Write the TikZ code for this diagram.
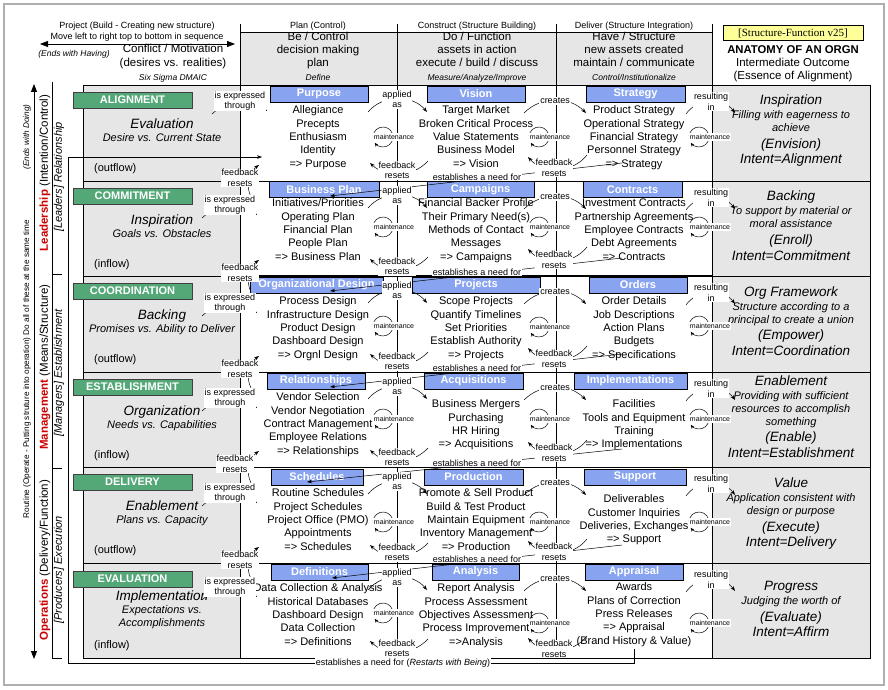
\documentclass[tikz,border=0pt]{standalone}
\usepackage{fontspec}
\setmainfont{Liberation Sans}
\newfontfamily\tagserif{Liberation Serif}
\usetikzlibrary{arrows.meta}
\definecolor{boxblue}{RGB}{136,164,240}
\definecolor{boxgreen}{RGB}{84,168,120}
\definecolor{cellgray}{RGB}{230,230,230}
\definecolor{leadred}{RGB}{204,0,0}
\definecolor{tagyellow}{RGB}{255,255,153}
\definecolor{framegray}{RGB}{175,175,175}
\newcommand\fsz[2]{\fontsize{#1}{#2}\selectfont}
\newcommand\colcell[4]{\foreach \cc [count=\kk] in {#4}{\node[txt] (#1-\kk) at (#2,{#3+(\kk-1)*13.3}) {\cc};}}
\tikzset{
  gridline/.style={line width=0.8pt, draw=black},
  txt/.style={inner sep=0pt, text height=8pt, text depth=2.4pt, font=\fsz{11}{13}},
  hdr/.style={inner sep=0pt, text height=8.5pt, text depth=2.5pt, font=\fsz{11.5}{13}},
  smalltxt/.style={inner sep=0pt, text height=6.5pt, text depth=2pt, font=\fsz{9}{10.5}},
  smallit/.style={inner sep=0pt, text height=6.5pt, text depth=2pt, font=\itshape\fsz{8.5}{10}},
  bigit/.style={inner sep=0pt, text height=9.5pt, text depth=3pt, font=\itshape\fsz{13.5}{15}},
  smit/.style={inner sep=0pt, text height=8pt, text depth=2.4pt, font=\itshape\fsz{11}{13}},
  lbl/.style={fill=white, inner sep=0.8pt, align=center, font=\fsz{9}{10.5}},
  mlbl/.style={fill=white, inner sep=1.2pt, font=\fsz{7}{8}},
  bluebox/.style={draw=black, line width=0.7pt, fill=boxblue, text=white, font=\bfseries\fsz{11}{12}, minimum height=16pt, inner sep=0pt},
  greenbox/.style={draw=black!75, line width=0.7pt, fill=boxgreen, text=white, font=\bfseries\fsz{11}{12}, minimum width=119pt, minimum height=16pt, inner sep=0pt},
  conn/.style={line width=0.5pt, -{Stealth[length=5pt,width=3.6pt]}},
  marc/.style={line width=0.5pt, -{Stealth[length=4pt,width=3.2pt]}},
  bigarrow/.style={line width=0.9pt, {Triangle[length=8pt,width=6pt]}-{Triangle[length=8pt,width=6pt]}}
}
\begin{document}
\begin{tikzpicture}[x=1pt,y=-1pt]
\useasboundingbox (0,0) rectangle (888,690);
\fill[white] (0,0) rectangle (888,690);
\draw[framegray, line width=1.2pt] (4,4) rectangle (884,685);

% ---------- fills ----------
\fill[cellgray] (83,85) rectangle (240,658);
\fill[cellgray] (240,32) rectangle (712,85);
\fill[cellgray] (712,85) rectangle (870,658);

% ---------- grid ----------
\draw[gridline] (83,85) rectangle (870,658);
\draw[gridline] (240,32) -- (712,32);
\foreach \xx in {240,397,556,712} \draw[gridline] (\xx,24) -- (\xx,658);
\foreach \yy in {181,276,372,467,563} \draw[gridline] (83,\yy) -- (870,\yy);
\draw[line width=1.8pt] (240,276) -- (712,276);

% ---------- left side ----------
\coordinate (vtop) at (34,84);
\coordinate (vbot) at (34,659);
\draw[bigarrow] (vtop) -- (vbot);
\node[rotate=90, inner sep=0pt, font=\itshape\fsz{8.2}{10}] (endsdoing) at (27,137) {(Ends with Doing)};
\node[rotate=90, inner sep=0pt, font=\fsz{8.2}{10}] (routine) at (27,369) {Routine (Operate - Putting struture into operation) Do all of these at the same time};
\node[rotate=90, inner sep=0pt, font=\fsz{11.5}{13}] (lead) at (45,173) {\textcolor{leadred}{\bfseries Leadership} (Intention/Control)};
\node[rotate=90, inner sep=0pt, font=\fsz{11.5}{13}] (mgmt) at (45,367) {\textcolor{leadred}{\bfseries Management} (Means/Structure)};
\node[rotate=90, inner sep=0pt, font=\fsz{11.5}{13}] (ops) at (45,560) {\textcolor{leadred}{\bfseries Operations} (Delivery/Function)};
\node[rotate=90, inner sep=0pt, font=\itshape\fsz{11}{13}] (leaders) at (59,177) {[Leaders] Relationship};
\node[rotate=90, inner sep=0pt, font=\itshape\fsz{11}{13}] (managers) at (59,373) {[Managers] Establishment};
\node[rotate=90, inner sep=0pt, font=\itshape\fsz{11}{13}] (producers) at (59,570) {[Producers] Execution};
\draw[line width=0.8pt] (52,82) -- (52,658) -- (62,658);
\draw[line width=0.8pt] (52,274) -- (62,274);
\draw[line width=0.8pt] (52,468) -- (62,468);

% ---------- header ----------
\node[smalltxt] (hproj) at (137,26) {Project (Build - Creating new structure)};
\node[smalltxt] (hmove) at (137,37) {Move left to right top to bottom in sequence};
\coordinate (hal) at (40,44);
\coordinate (har) at (235,44);
\draw[bigarrow, line width=0.8pt] (hal) -- (har);
\node[smallit] (hends) at (74,54) {(Ends with Having)};
\node[hdr] (hconf) at (173,50) {Conflict / Motivation};
\node[hdr] (hdes) at (173,64) {(desires vs. realities)};
\node[smallit] (hsix) at (173,78) {Six Sigma DMAIC};

\node[smalltxt] (pl0) at (318,26) {Plan (Control)};
\node[hdr] (pl1) at (318,38) {Be / Control};
\node[hdr] (pl2) at (318,51) {decision making};
\node[hdr] (pl3) at (318,64) {plan};
\node[smallit] (pl4) at (318,78) {Define};

\node[smalltxt] (co0) at (477,26) {Construct (Structure Building)};
\node[hdr] (co1) at (477,38) {Do / Function};
\node[hdr] (co2) at (477,51) {assets in action};
\node[hdr] (co3) at (477,64) {execute / build / discuss};
\node[smallit] (co4) at (477,78) {Measure/Analyze/Improve};

\node[smalltxt] (de0) at (634,26) {Deliver (Structure Integration)};
\node[hdr] (de1) at (634,38) {Have / Structure};
\node[hdr] (de2) at (634,51) {new assets created};
\node[hdr] (de3) at (634,64) {maintain / communicate};
\node[smallit] (de4) at (634,78) {Control/Institutionalize};

\node[draw=black, line width=0.6pt, fill=tagyellow, minimum width=140pt, minimum height=15pt, inner sep=0pt, font=\tagserif\fsz{11}{12}] (ver) at (793,33) {[Structure-Function v25]};
\node[hdr, font=\bfseries\fsz{11.3}{13}] (anat) at (793,51) {ANATOMY OF AN ORGN};
\node[hdr] (inter) at (793,64) {Intermediate Outcome};
\node[hdr] (ess) at (793,77) {(Essence of Alignment)};

% ---------- left column ----------
\foreach \r/\yo/\gn/\ttlx/\subx/\flowx in {1/85/ALIGNMENT/Evaluation/Desire vs. Current State/(outflow),2/181/COMMITMENT/Inspiration/Goals vs. Obstacles/(inflow),3/276/COORDINATION/Backing/Promises vs. Ability to Deliver/(outflow),4/372/ESTABLISHMENT/Organization/Needs vs. Capabilities/(inflow),5/467/DELIVERY/Enablement/Plans vs. Capacity/(outflow)}{
  \node[greenbox] (g\r) at (132.5,{\yo+15}) {\gn};
  \node[bigit] (lt\r) at (162,{\yo+40}) {\ttlx};
  \node[smit] (ls\r) at (162,{\yo+54}) {\subx};
  \node[txt, anchor=west] (lf\r) at (94,{\yo+84}) {\flowx};
}
\node[greenbox] (g6) at (132.5,579) {EVALUATION};
\node[bigit] (lt6) at (162,597) {Implementation};
\node[smit] (ls6a) at (162,611) {Expectations vs.};
\node[smit] (ls6b) at (162,624) {Accomplishments};
\node[txt, anchor=west] (lf6) at (94,646) {(inflow)};

% ---------- blue boxes ----------
\node[bluebox, minimum width=98pt] (bP1) at (319,94) {Purpose};
\node[bluebox, minimum width=98pt] (bV1) at (476,94) {Vision};
\node[bluebox, minimum width=99pt] (bS1) at (635.5,94) {Strategy};
\node[bluebox, minimum width=110pt] (bP2) at (324,189.5) {Business Plan};
\node[bluebox, minimum width=107pt] (bV2) at (480.5,189.5) {Campaigns};
\node[bluebox, minimum width=99pt] (bS2) at (632.5,189.5) {Contracts};
\node[bluebox, minimum width=133pt] (bP3) at (316.5,285) {Organizational Design};
\node[bluebox, minimum width=128pt] (bV3) at (476,285) {Projects};
\node[bluebox, minimum width=98pt] (bS3) at (638,285) {Orders};
\node[bluebox, minimum width=98pt] (bP4) at (316,381) {Relationships};
\node[bluebox, minimum width=99pt] (bV4) at (473.5,381) {Acquisitions};
\node[bluebox, minimum width=113pt] (bS4) at (630.5,381) {Implementations};
\node[bluebox, minimum width=92pt] (bP5) at (317,477) {Schedules};
\node[bluebox, minimum width=99pt] (bV5) at (473.5,477) {Production};
\node[bluebox, minimum width=102pt] (bS5) at (635,477) {Support};
\node[bluebox, minimum width=97pt] (bP6) at (319.5,572) {Definitions};
\node[bluebox, minimum width=87pt] (bV6) at (475.5,572) {Analysis};
\node[bluebox, minimum width=98pt] (bS6) at (634,572) {Appraisal};

% ---------- body texts ----------
\colcell{p1}{318}{111}{Allegiance,Precepts,Enthusiasm,Identity,=> Purpose}
\colcell{v1}{476}{111}{Target Market,Broken Critical Process,Value Statements,Business Model,=> Vision}
\colcell{s1}{634}{111}{Product Strategy,Operational Strategy,Financial Strategy,Personnel Strategy,=> Strategy}
\colcell{p2}{318}{204}{Initiatives/Priorities,Operating Plan,Financial Plan,People Plan,=> Business Plan}
\colcell{v2}{476}{204}{Financial Backer Profile,Their Primary Need(s),Methods of Contact,Messages,=> Campaigns}
\colcell{s2}{634}{204}{Investment Contracts,Partnership Agreements,Employee Contracts,Debt Agreements,=> Contracts}
\colcell{p3}{318}{302}{Process Design,Infrastructure Design,Product Design,Dashboard Design,=> Orgnl Design}
\colcell{v3}{476}{302}{Scope Projects,Quantify Timelines,Set Priorities,Establish Authority,=> Projects}
\colcell{s3}{634}{302}{Order Details,Job Descriptions,Action Plans,Budgets,=> Specifications}
\colcell{p4}{318}{398}{Vendor Selection,Vendor Negotiation,Contract Management,Employee Relations,=> Relationships}
\colcell{v4}{476}{405}{Business Mergers,Purchasing,HR Hiring,=> Acquisitions}
\colcell{s4}{634}{405}{Facilities,Tools and Equipment,Training,=> Implementations}
\colcell{p5}{318}{494}{Routine Schedules,Project Schedules,Project Office (PMO),Appointments,=> Schedules}
\colcell{v5}{476}{494}{Promote \& Sell Product,Build \& Test Product,Maintain Equipment,Inventory Management,=> Production}
\colcell{s5}{634}{500}{Deliverables,Customer Inquiries,{Deliveries, Exchanges},=> Support}
\colcell{p6}{318}{589}{Data Collection \& Analysis,Historical Databases,Dashboard Design,Data Collection,=> Definitions}
\colcell{v6}{476}{589}{Report Analysis,Process Assessment,Objectives Assessment,Process Improvement,=>Analysis}
\colcell{s6}{634}{588}{Awards,Plans of Correction,Press Releases,=> Appraisal,(Brand History \& Value)}

% ---------- right column ----------
\node[bigit] (o1a) at (791,101) {Inspiration};
\node[smit] (o1b) at (791,116) {Filling with eagerness to};
\node[smit] (o1c) at (791,129) {achieve};
\node[bigit] (o1d) at (791,145) {(Envision)};
\node[bigit] (o1e) at (791,160) {Intent=Alignment};
\node[bigit] (o2a) at (791,197) {Backing};
\node[smit] (o2b) at (791,212) {To support by material or};
\node[smit] (o2c) at (791,225) {moral assistance};
\node[bigit] (o2d) at (791,241) {(Enroll)};
\node[bigit] (o2e) at (791,257) {Intent=Commitment};
\node[bigit] (o3a) at (791,293) {Org Framework};
\node[smit] (o3b) at (791,308) {Structure according to a};
\node[smit] (o3c) at (791,321) {principal to create a union};
\node[bigit] (o3d) at (791,336) {(Empower)};
\node[bigit] (o3e) at (791,352) {Intent=Coordination};
\node[bigit] (o4a) at (791,382) {Enablement};
\node[smit] (o4b) at (791,397) {Providing with sufficient};
\node[smit] (o4c) at (791,410) {resources to accomplish};
\node[smit] (o4d) at (791,423) {something};
\node[bigit] (o4e) at (791,438) {(Enable)};
\node[bigit] (o4f) at (791,454) {Intent=Establishment};
\node[bigit] (o5a) at (791,484) {Value};
\node[smit] (o5b) at (791,499) {Application consistent with};
\node[smit] (o5c) at (791,512) {design or purpose};
\node[bigit] (o5d) at (791,528) {(Execute)};
\node[bigit] (o5e) at (791,543) {Intent=Delivery};
\node[bigit] (o6a) at (791,587) {Progress};
\node[smit] (o6b) at (791,602) {Judging the worth of};
\node[bigit] (o6c) at (791,618) {(Evaluate)};
\node[bigit] (o6d) at (791,633) {Intent=Affirm};

% ---------- connectors ----------
\foreach \r/\yo/\exx/\exy/\ma/\mb/\mc/\fbb in {1/85/240/16/52/52/52/168,2/181/230/24/46/46/46/260,3/276/230/27/50/51/50/359,4/372/230/26/47/47/47/453,5/467/230/26/55/55/55/552,6/563/230/24/50/60/60/649}{
  \coordinate (exs\r) at ({\exx-28},{\yo+\exy+13});
  \coordinate (exe\r) at ({\exx+27},{\yo+\exy+10});
  \draw[conn] (exs\r) to[bend left=40] (exe\r);
  \coordinate (aps\r) at (368,{\yo+27});
  \coordinate (ape\r) at (427,{\yo+27});
  \draw[conn] (aps\r) to[bend left=50] (ape\r);
  \coordinate (crs\r) at (524,{\yo+28});
  \coordinate (cre\r) at (586,{\yo+28});
  \draw[conn] (crs\r) to[bend left=45] (cre\r);
  \coordinate (rss\r) at (686,{\yo+29});
  \coordinate (rse\r) at (735,{\yo+28});
  \draw[conn] (rss\r) to[bend left=55] (rse\r);
  \coordinate (fas\r) at (428,{\yo+76});
  \coordinate (fae\r) at (370,{\yo+78});
  \draw[conn] (fas\r) to[bend left=45] (fae\r);
  \coordinate (fbs\r) at (587,{\fbb-13});
  \coordinate (fbe\r) at (528,{\fbb-11});
  \draw[conn] (fbs\r) to[bend left=50] (fbe\r);
  \coordinate (mA\r) at (383,{\yo+\ma});
  \coordinate (mB\r) at (539,{\yo+\mb});
  \coordinate (mC\r) at (699,{\yo+\mc});
  \foreach \m in {mA,mB,mC}{\draw[marc] (\m\r) ++(175:10pt) arc[start angle=175,end angle=-145,radius=10pt];}
}
\foreach \r/\yb/\fx/\ex in {1/181/240/330,2/276/240/330,3/372/240/330,4/467/235/307,5/563/240/332}{
  \coordinate (lfs\r) at (251,{\yb+16});
  \coordinate (lfe\r) at (259,{\yb-16});
  \draw[conn] (lfs\r) to[bend left=40] (lfe\r);
  \coordinate (ens\r) at (622,{\yb-18});
  \coordinate (ene\r) at (\ex,{\yb+15});
  \draw[conn] (ens\r) -- (ene\r);
}
\coordinate (lpa) at (634,649);
\coordinate (lpb) at (634,663);
\coordinate (lpc) at (68,663);
\coordinate (lpd) at (68,157);
\coordinate (lpe) at (262,157);
\draw[conn] (lpa) -- (lpb) -- (lpc) -- (lpd) -- (lpe);

% ---------- labels ----------
\foreach \r/\yo/\exx/\exy/\ma/\mb/\mc/\fbb in {1/85/240/16/52/52/52/168,2/181/230/24/46/46/46/260,3/276/230/27/50/51/50/359,4/372/230/26/47/47/47/453,5/467/230/26/55/55/55/552,6/563/230/24/50/60/60/649}{
  \node[lbl] (exl\r) at (\exx,{\yo+\exy}) {is expressed\\through};
  \node[lbl] (apl\r) at (397,{\yo+14.5}) {applied\\as};
  \node[lbl] (crl\r) at (555,{\yo+16}) {creates};
  \node[lbl] (rsl\r) at (711,{\yo+16.5}) {resulting\\in};
  \node[lbl] (fal\r) at (397,{\yo+85.5}) {feedback\\resets};
  \node[lbl] (fbl\r) at (554,\fbb) {feedback\\resets};
  \node[mlbl] (mAl\r) at (394,{\yo+\ma}) {maintenance};
  \node[mlbl] (mBl\r) at (550,{\yo+\mb}) {maintenance};
  \node[mlbl] (mCl\r) at (710,{\yo+\mc}) {maintenance};
}
\foreach \r/\yb/\fx in {1/181/240,2/276/240,3/372/240,4/467/235,5/563/240}{
  \node[lbl] (lfl\r) at (\fx,{\yb-3}) {feedback\\resets};
  \node[lbl] (enl\r) at (477,{\yb-4}) {establishes a need for};
}
\node[lbl] (restart) at (403,663) {establishes a need for (\textit{Restarts with Being})};
\end{tikzpicture}
\end{document}
